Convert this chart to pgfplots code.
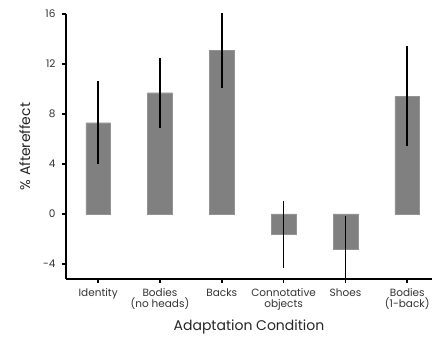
\documentclass[border=0pt]{standalone}
\usepackage{pgfplots}
\pgfplotsset{compat=1.18}
\usepackage{fontspec}
\setmainfont{Poppins}
\definecolor{bargray}{RGB}{128,128,128}
\begin{document}
\begin{tikzpicture}
\useasboundingbox (-66pt,-64pt) rectangle (366pt,279pt);
\begin{axis}[
  at={(0pt,0pt)}, anchor=south west,
  scale only axis,
  width=366pt, height=265pt,
  xmin=-0.52, xmax=5.4,
  ymin=-5.2, ymax=16,
  axis x line=bottom, axis y line=left,
  axis line style={line width=1.6pt, -},
  xtick={0,1,2,3,4,5},
  xticklabels={Identity, {Bodies\\(no heads)}, Backs, {Connotative\\objects}, Shoes, {Bodies\\(1-back)}},
  xticklabel style={align=center, font=\fontsize{10.5}{11}\selectfont, text=black!80, yshift=-2pt},
  ytick={-4,0,4,8,12,16},
  yticklabels={-4,0,4,8,12,16},
  yticklabel style={font=\fontsize{10.5}{11}\selectfont, text=black!80, xshift=-3pt},
  tick style={line width=1.6pt, black},
  major tick length=4pt,
  tick align=outside,
  xlabel={Adaptation Condition},
  ylabel={\% Aftereffect},
  label style={font=\fontsize{14}{15}\selectfont, text=black!85},
  xlabel style={yshift=-3pt},
  ylabel style={yshift=6pt},
  ybar, bar width=24.7pt,
]
\addplot[fill=bargray, draw=bargray!85!white, line width=0.4pt,
  error bars/.cd, y dir=both, y explicit, error mark=none,
  error bar style={line width=1.7pt, black}]
  coordinates {
  (0,7.3) +- (0,3.3)
  (1,9.7) +- (0,2.8)
  (2,13.1) +- (0,3.0)
  (3,-1.65) +- (0,2.7)
  (4,-2.8) +- (0,2.65)
  (5,9.4) +- (0,4.0)
  };
\end{axis}
\end{tikzpicture}
\end{document}
